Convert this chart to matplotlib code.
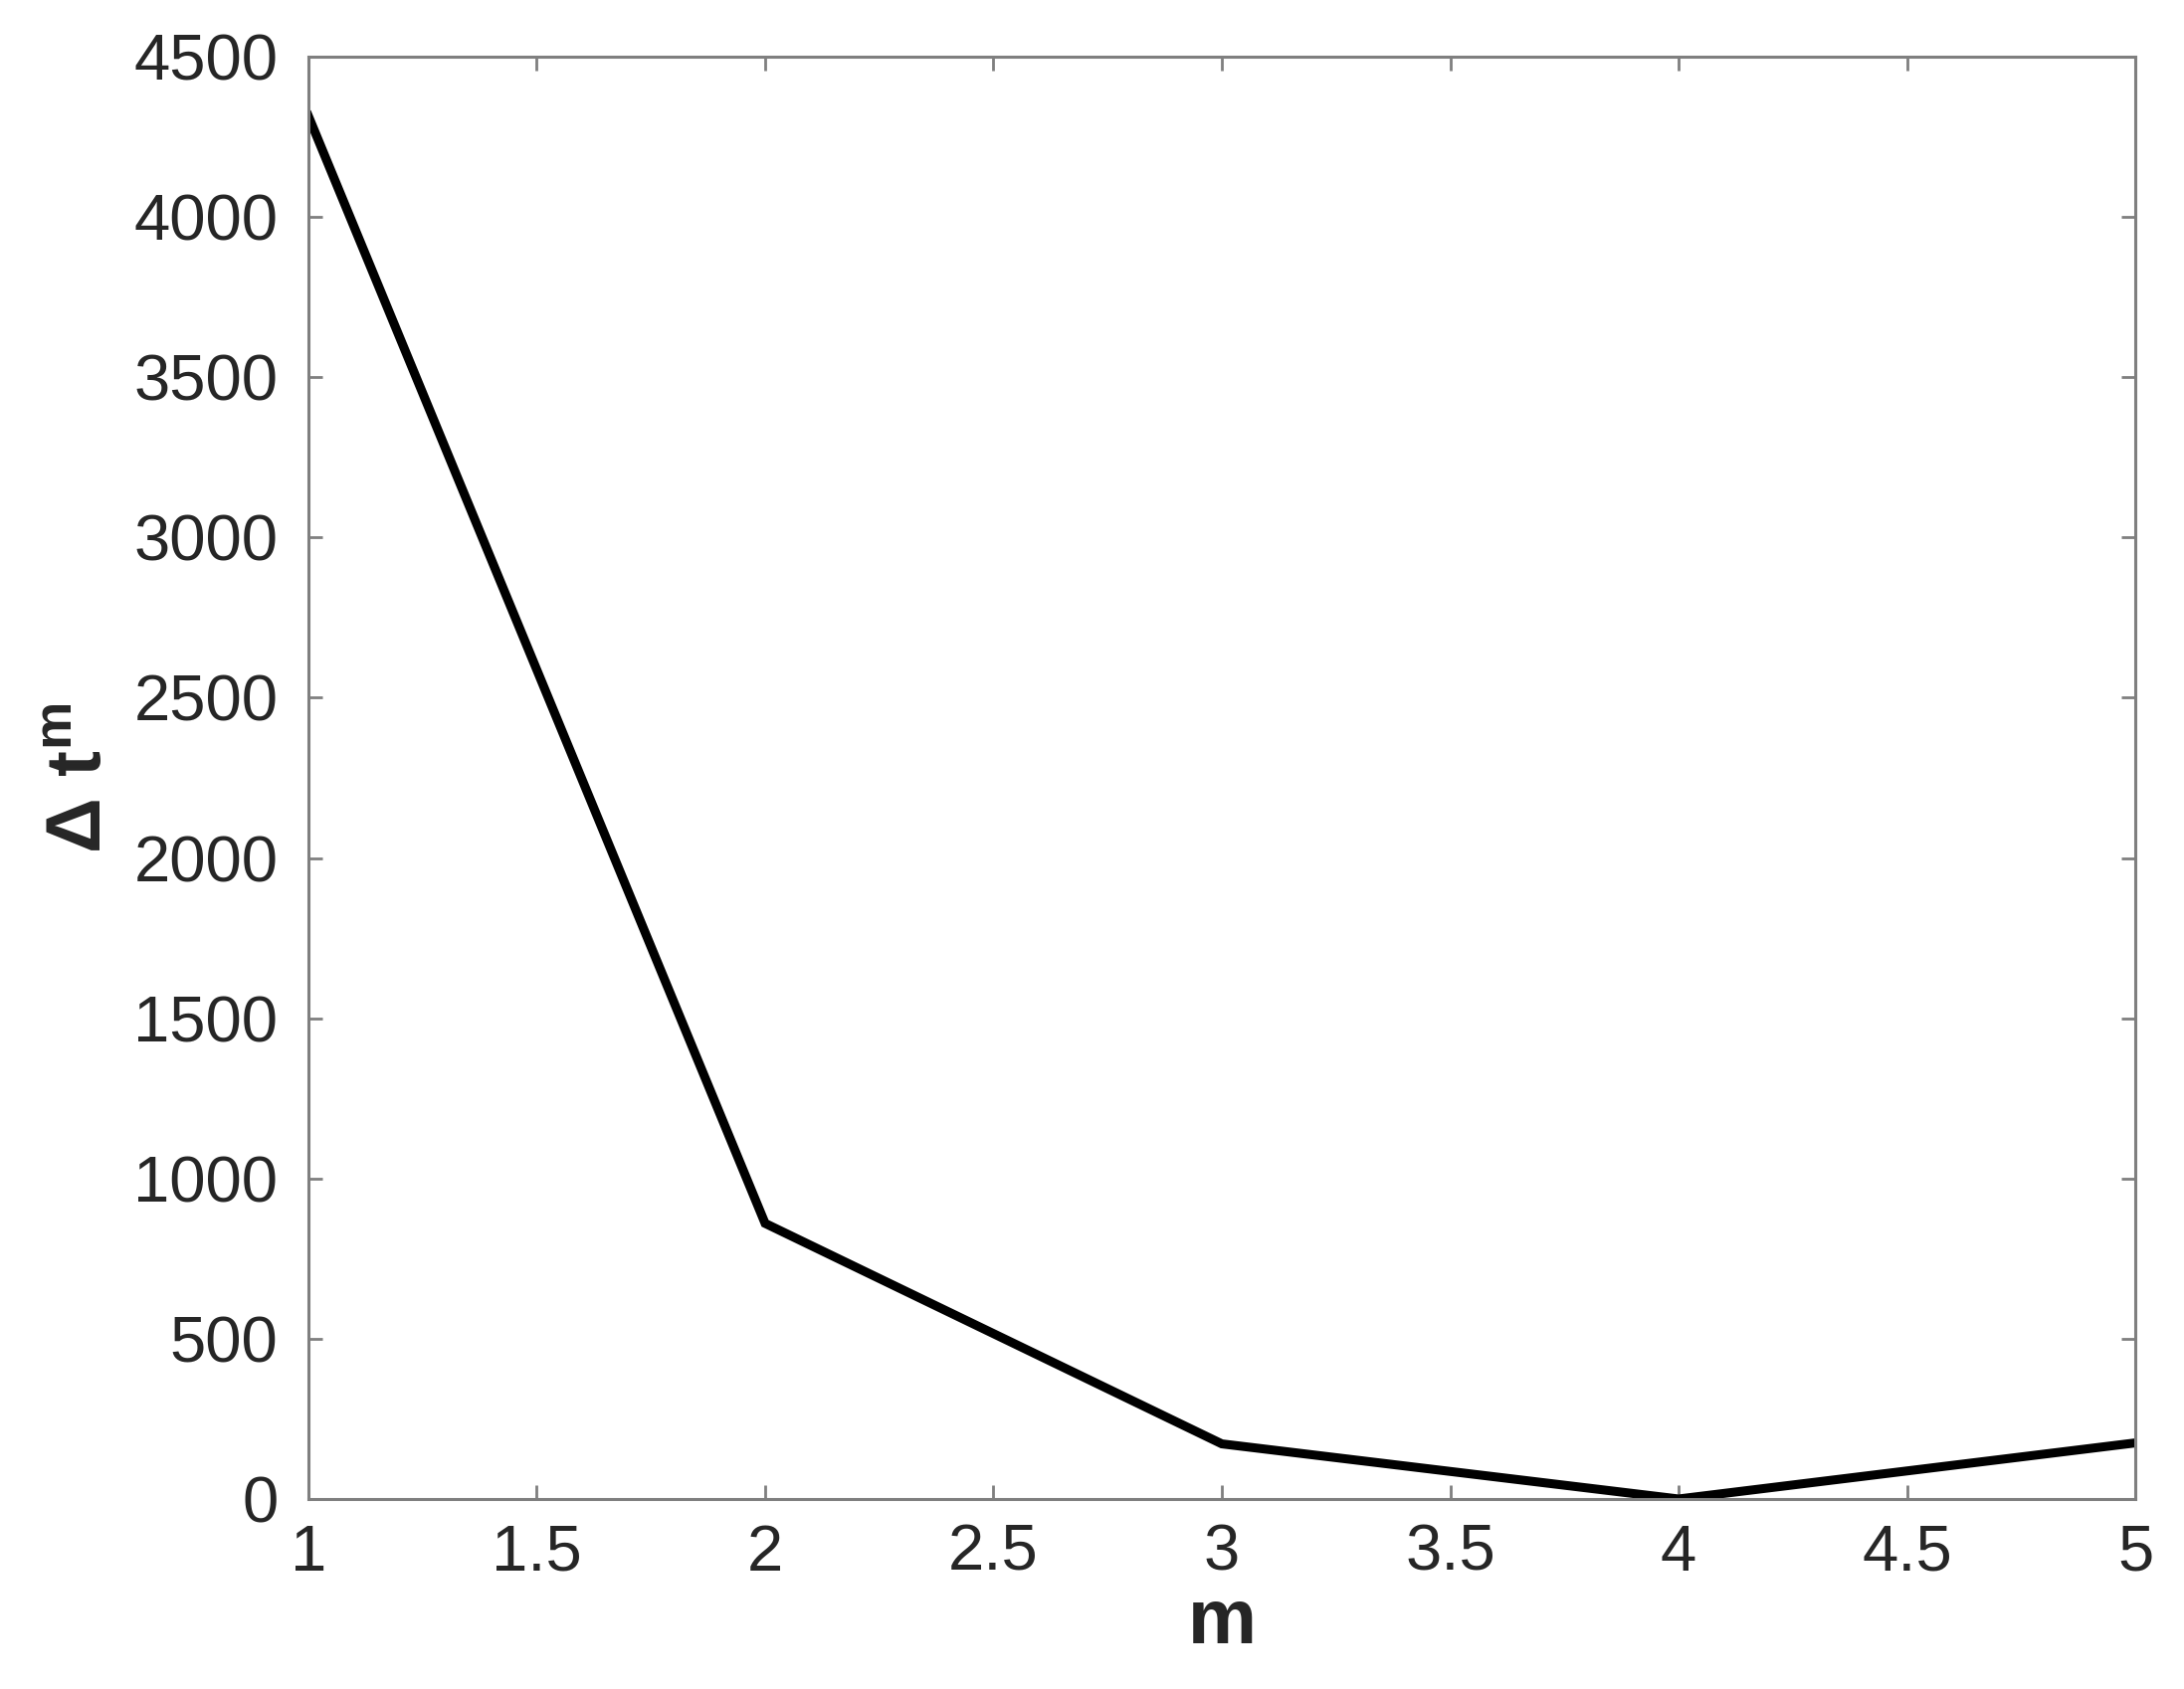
import numpy as np
import matplotlib
matplotlib.use("Agg")
import matplotlib.pyplot as plt

# values
m_values = [1, 2, 3, 4, 5]
dt_values = [4315, 860, 172, 0, 175]

x_ticks = [1, 1.5, 2, 2.5, 3, 3.5, 4, 4.5, 5]
y_ticks = [0, 500, 1000, 1500, 2000, 2500, 3000, 3500, 4000, 4500]

plt.rcParams['font.family'] = ['Liberation Sans', 'DejaVu Sans']
plt.rcParams['mathtext.fontset'] = 'custom'
plt.rcParams['mathtext.rm'] = 'Liberation Sans'
plt.rcParams['mathtext.bf'] = 'Liberation Sans:bold'
plt.rcParams['mathtext.it'] = 'Liberation Sans:italic'

axis_grey = '#7f7f7f'
text_grey = '#262626'

fig = plt.figure(figsize=(21.95, 16.98), dpi=100)
ax = fig.add_axes([0.1412, 0.1125, 0.8365, 0.8539])

ax.plot(m_values, dt_values, color='black', linewidth=6.5, solid_joinstyle='miter')

ax.set_xlim(1, 5)
ax.set_ylim(0, 4500)
ax.set_xticks(x_ticks)
ax.set_yticks(y_ticks)
ax.set_xticklabels([f"{t:g}" for t in x_ticks])
ax.set_yticklabels([str(t) for t in y_ticks])

for s in ax.spines.values():
    s.set_color(axis_grey)
    s.set_linewidth(2.2)

ax.tick_params(axis='both', direction='in', length=10, width=2, color=axis_grey,
               labelsize=47, labelcolor=text_grey, top=True, right=True)
ax.tick_params(axis='y', pad=22)
ax.tick_params(axis='x', pad=18)

ax.set_xlabel('m', fontsize=56, fontweight='bold', color=text_grey, labelpad=2)
ax.set_ylabel(r'$\mathbf{\Delta\ t^{m}}$', fontsize=56, color=text_grey, labelpad=12)

fig.savefig('out.png', dpi=100, facecolor='white')
